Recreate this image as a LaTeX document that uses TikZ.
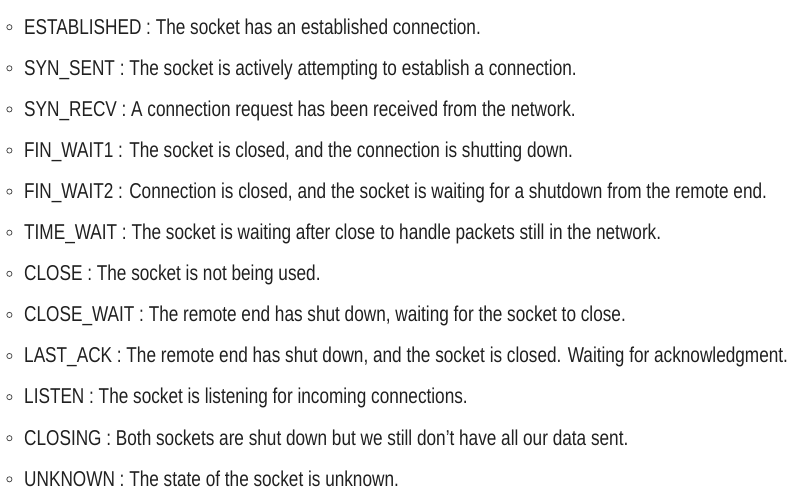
\documentclass[tikz,border=0pt]{standalone}
\usepackage{fontspec}
\setmainfont[FakeStretch=0.80]{Liberation Sans}
\usepackage{tikz}
\usetikzlibrary{positioning}
\definecolor{txtcol}{HTML}{202020}
\definecolor{bulcol}{HTML}{505050}

\begin{document}
\begin{tikzpicture}[node distance=41.1pt,
    item/.style={anchor=base west,inner sep=0pt,text=txtcol,
      font=\fontsize{21.5}{25}\selectfont},
    bullet/.style={circle,draw=bulcol,line width=0.8pt,minimum size=5.2pt,inner sep=0pt}]
       \useasboundingbox (0,0) rectangle (796pt,-491pt);
       \node [item] (est) at (24pt,-34pt) {ESTABLISHED : The socket has an established connection.};
       \node [item, below=of est.base west, anchor=base west] (synsent) {SYN\_SENT : The socket is actively attempting to establish a connection.};
       \node [item, below=of synsent.base west, anchor=base west] (synrecv) {SYN\_RECV : A connection request has been received from the network.};
       \node [item, below=of synrecv.base west, anchor=base west] (fw1) {FIN\_WAIT1 : The socket is closed, and the connection is shutting down.};
       \node [item, below=of fw1.base west, anchor=base west] (fw2) {FIN\_WAIT2 : Connection is closed, and the socket is waiting for a shutdown from the remote end.};
       \node [item, below=of fw2.base west, anchor=base west] (tw) {TIME\_WAIT : The socket is waiting after close to handle packets still in the network.};
       \node [item, below=of tw.base west, anchor=base west] (close) {CLOSE : The socket is not being used.};
       \node [item, below=of close.base west, anchor=base west] (cw) {CLOSE\_WAIT : The remote end has shut down, waiting for the socket to close.};
       \node [item, below=of cw.base west, anchor=base west] (lack) {LAST\_ACK : The remote end has shut down, and the socket is closed. Waiting for acknowledgment.};
       \node [item, below=of lack.base west, anchor=base west] (listen) {LISTEN : The socket is listening for incoming connections.};
       \node [item, below=of listen.base west, anchor=base west] (closing) {CLOSING : Both sockets are shut down but we still don’t have all our data sent.};
       \node [item, below=of closing.base west, anchor=base west] (unknown) {UNKNOWN : The state of the socket is unknown.};
       % bullets in front of every line
       \foreach \n in {est,synsent,synrecv,fw1,fw2,tw,close,cw,lack,listen,closing,unknown}
         \node [bullet, left=11.6pt of \n.base west, yshift=6.8pt] (b\n) {};
\end{tikzpicture}
\end{document}
